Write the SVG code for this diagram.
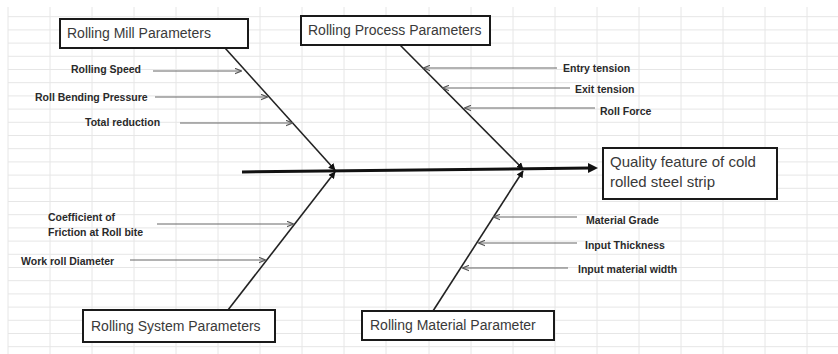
<svg xmlns="http://www.w3.org/2000/svg" width="838" height="354" viewBox="0 0 838 354">
<defs>
<marker id="sub" viewBox="0 0 10 10" refX="9" refY="5" markerWidth="7" markerHeight="7" markerUnits="userSpaceOnUse" orient="auto">
<path d="M0,1 L10,5 L0,9" fill="none" stroke="#555" stroke-width="1.6"/>
</marker>
<marker id="bone" viewBox="0 0 10 10" refX="9" refY="5" markerWidth="7" markerHeight="7" markerUnits="userSpaceOnUse" orient="auto">
<path d="M0,0 L10,5 L0,10 Z" fill="#111"/>
</marker>
<marker id="spine" viewBox="0 0 10 10" refX="2" refY="5" markerWidth="10" markerHeight="10" markerUnits="userSpaceOnUse" orient="auto">
<path d="M0,0 L10,5 L0,10 Z" fill="#111"/>
</marker>
</defs>
<style>
.grid{stroke:#e6e6e6;stroke-width:1;fill:none}
.box{fill:#fff;stroke:#1a1a1a;stroke-width:2}
.bt{font-family:"Liberation Sans",Arial,sans-serif;font-size:14px;fill:#3a3a3a}
.q{font-size:15px}
.lab{font-family:"Liberation Sans",Arial,sans-serif;font-size:10.5px;font-weight:bold;fill:#2a2a2a}
.sub{stroke:#666;stroke-width:1;fill:none;marker-end:url(#sub)}
.bn{stroke:#222;stroke-width:1.6;fill:none;marker-end:url(#bone)}
</style>
<rect width="838" height="354" fill="#fff"/>
<g id="grid">
<path class="grid" d="M8,7V354M50,7V354M92,7V354M134,7V354M176,7V354M218,7V354M260,7V354M302,7V354M344,7V354M386,7V354M429,7V354M471,7V354M513,7V354M555,7V354M597,7V354M639,7V354M681,7V354M723,7V354M765,7V354M807,7V354"/>
<path class="grid" d="M8,16.7H838M8,29.9H838M8,43.1H838M8,56.3H838M8,69.5H838M8,82.7H838M8,95.9H838M8,109.1H838M8,122.3H838M8,135.5H838M8,148.7H838M8,161.9H838M8,175.1H838M8,188.3H838M8,201.5H838M8,214.7H838M8,227.9H838M8,241.1H838M8,254.3H838M8,267.5H838M8,280.7H838M8,293.9H838M8,307.1H838M8,320.3H838M8,333.5H838M8,346.7H838"/>
</g>
<g id="connectors">
<line x1="242" y1="172" x2="590" y2="168" stroke="#111" stroke-width="3" marker-end="url(#spine)"/>
<line class="bn" x1="225" y1="48" x2="335" y2="170"/>
<line class="bn" x1="400" y1="45" x2="523" y2="169"/>
<line class="bn" x1="228" y1="310" x2="335" y2="172"/>
<line class="bn" x1="433" y1="311" x2="523" y2="171"/>
<line class="sub" x1="153" y1="71" x2="241" y2="71"/>
<line class="sub" x1="155" y1="97" x2="267" y2="97"/>
<line class="sub" x1="180" y1="123" x2="292" y2="123"/>
<line class="sub" x1="157" y1="224" x2="293" y2="224"/>
<line class="sub" x1="130" y1="260" x2="265" y2="260"/>
<line class="sub" x1="557" y1="68" x2="424" y2="68"/>
<line class="sub" x1="570" y1="88" x2="443" y2="88"/>
<line class="sub" x1="595" y1="108" x2="465" y2="108"/>
<line class="sub" x1="577" y1="217" x2="494" y2="217"/>
<line class="sub" x1="577" y1="243" x2="479" y2="243"/>
<line class="sub" x1="568" y1="268" x2="463" y2="268"/>
</g>
<g id="mill">
<rect class="box" x="60" y="19" width="188" height="29"/>
<text class="bt" x="67" y="38">Rolling Mill Parameters</text>
</g>
<g id="process">
<rect class="box" x="301" y="16" width="189" height="29"/>
<text class="bt" x="308" y="35">Rolling Process Parameters</text>
</g>
<g id="quality">
<rect class="box" x="603" y="148" width="174" height="51"/>
<text class="bt q" x="610" y="167">Quality  feature of cold</text>
<text class="bt q" x="610" y="187">rolled steel strip</text>
</g>
<g id="system">
<rect class="box" x="83" y="310" width="192" height="32"/>
<text class="bt" x="91" y="331">Rolling  System Parameters</text>
</g>
<g id="material">
<rect class="box" x="362" y="311" width="192" height="29"/>
<text class="bt" x="370" y="330">Rolling Material Parameter</text>
</g>
<g id="labels">
<text class="lab" x="71" y="72.5">Rolling Speed</text>
<text class="lab" x="35" y="100.5">Roll Bending Pressure</text>
<text class="lab" x="85" y="125.5">Total reduction</text>
<text class="lab" x="48" y="220.5">Coefficient of</text>
<text class="lab" x="48" y="235.5">Friction at Roll bite</text>
<text class="lab" x="21" y="264.5">Work roll Diameter</text>
<text class="lab" x="563" y="71.5">Entry tension</text>
<text class="lab" x="575" y="92.5">Exit  tension</text>
<text class="lab" x="600" y="114.5">Roll Force</text>
<text class="lab" x="586" y="223.5">Material Grade</text>
<text class="lab" x="585" y="248.5">Input Thickness</text>
<text class="lab" x="578" y="272.5">Input material width</text>
</g>
</svg>
